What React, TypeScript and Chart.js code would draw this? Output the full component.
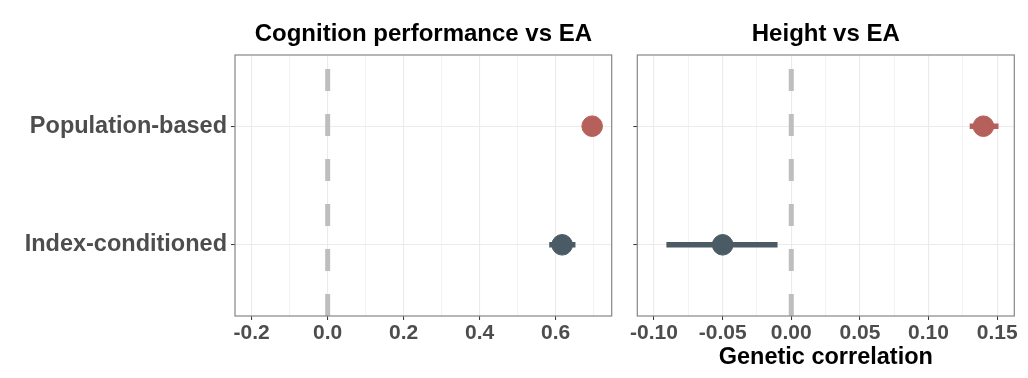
import React, { useEffect, useRef } from 'react';
import { Chart, registerables } from 'chart.js';

Chart.register(...registerables);

// ---------- data ----------
const categories = ['Index-conditioned', 'Population-based'];
const categoryPositions = [1, 2];
const groupColors = ['#4A5B66', '#B5605A'];

const cognitionTitle = 'Cognition performance vs EA';
const cognitionEstimate = [0.617, 0.696];
const cognitionLower = [0.583, 0.685];
const cognitionUpper = [0.652, 0.707];
const cognitionTicks = [-0.2, 0.0, 0.2, 0.4, 0.6];
const cognitionMinorTicks = [-0.1, 0.1, 0.3, 0.5, 0.7];

const heightTitle = 'Height vs EA';
const heightEstimate = [-0.05, 0.14];
const heightLower = [-0.091, 0.13];
const heightUpper = [-0.01, 0.151];
const heightTicks = [-0.1, -0.05, 0.0, 0.05, 0.1, 0.15];
const heightMinorTicks = [-0.075, -0.025, 0.025, 0.075, 0.125];

const xAxisTitle = 'Genetic correlation';
const referenceValue = 0;

// ---------- layout / style ----------
const FONT = '"Liberation Sans", Arial, Helvetica, sans-serif';
const H = 378;
const Y_MIN = 0.4;
const Y_MAX = 2.6;
const PAD_BOTTOM = 6;
const AREA_BOTTOM = 316;

type Panel = {
  title: string;
  estimate: number[];
  lower: number[];
  upper: number[];
  ticks: number[];
  minorTicks: number[];
  decimals: number;
  xMin: number;
  xMax: number;
  showYLabels: boolean;
  xTitle: string;
  left: number;
  width: number;
  yAxisWidth: number;
  padRight: number;
};

const panels: Panel[] = [
  {
    title: cognitionTitle,
    estimate: cognitionEstimate,
    lower: cognitionLower,
    upper: cognitionUpper,
    ticks: cognitionTicks,
    minorTicks: cognitionMinorTicks,
    decimals: 1,
    xMin: -0.2439,
    xMax: 0.7474,
    showYLabels: true,
    xTitle: '',
    left: 0,
    width: 620,
    yAxisWidth: 235,
    padRight: 8.3,
  },
  {
    title: heightTitle,
    estimate: heightEstimate,
    lower: heightLower,
    upper: heightUpper,
    ticks: heightTicks,
    minorTicks: heightMinorTicks,
    decimals: 2,
    xMin: -0.1122,
    xMax: 0.1625,
    showYLabels: false,
    xTitle: xAxisTitle,
    left: 620,
    width: 408,
    yAxisWidth: 17.3,
    padRight: 13.7,
  },
];

const panelBorder = {
  id: 'panelBorder',
  afterDatasetsDraw(chart: any) {
    const { ctx, chartArea } = chart;
    ctx.save();
    ctx.strokeStyle = '#858585';
    ctx.lineWidth = 1.2;
    ctx.strokeRect(chartArea.left, chartArea.top, chartArea.right - chartArea.left, chartArea.bottom - chartArea.top);
    ctx.restore();
  },
};

function buildConfig(p: Panel): any {
  const isMajor = (v: number) => p.ticks.some((m) => Math.abs(m - v) < 1e-9);
  const allTicks = [...p.ticks, ...p.minorTicks].sort((a, b) => a - b);

  const datasets: any[] = [];
  datasets.push({
    type: 'line',
    data: [
      { x: referenceValue, y: Y_MIN },
      { x: referenceValue, y: Y_MAX },
    ],
    borderColor: '#BEBEBE',
    borderWidth: 5,
    borderDash: [22, 23],
    borderCapStyle: 'butt',
    pointRadius: 0,
    fill: false,
    order: 3,
  });
  p.estimate.forEach((_, i) => {
    datasets.push({
      type: 'line',
      data: [
        { x: p.lower[i], y: categoryPositions[i] },
        { x: p.upper[i], y: categoryPositions[i] },
      ],
      borderColor: groupColors[i],
      borderWidth: 5.5,
      borderCapStyle: 'butt',
      pointRadius: 0,
      fill: false,
      order: 2,
    });
  });
  datasets.push({
    type: 'scatter',
    data: p.estimate.map((e, i) => ({ x: e, y: categoryPositions[i] })),
    backgroundColor: groupColors,
    borderColor: groupColors,
    borderWidth: 1,
    pointRadius: 10.3,
    pointHoverRadius: 10.3,
    order: 1,
  });

  return {
    type: 'scatter',
    data: { datasets },
    plugins: [panelBorder],
    options: {
      responsive: false,
      animation: false,
      events: [],
      layout: { autoPadding: false, padding: { left: 0, right: p.padRight, top: 0, bottom: PAD_BOTTOM } },
      plugins: {
        legend: { display: false },
        tooltip: { enabled: false },
        title: { display: false },
      },
      scales: {
        x: {
          type: 'linear',
          axis: 'x',
          position: 'bottom',
          min: p.xMin,
          max: p.xMax,
          afterBuildTicks: (s: any) => {
            s.ticks = allTicks.map((v) => ({ value: v }));
          },
          afterFit: (s: any) => {
            s.height = H - PAD_BOTTOM - AREA_BOTTOM;
          },
          ticks: {
            autoSkip: false,
            maxRotation: 0,
            padding: 1,
            color: '#4D4D4D',
            font: { family: FONT, size: 21, weight: 'bold' },
            callback: (v: number) => (isMajor(v) ? Number(v).toFixed(p.decimals) : ''),
          },
          grid: {
            color: '#EBEBEB',
            lineWidth: (c: any) => (c.tick && isMajor(c.tick.value) ? 1.1 : 0.6),
            tickLength: 4,
            tickColor: (c: any) => (c.tick && isMajor(c.tick.value) ? '#333333' : 'rgba(0,0,0,0)'),
            tickWidth: 1,
          },
          border: { display: false },
          title: {
            display: !!p.xTitle,
            text: p.xTitle,
            color: '#000000',
            font: { family: FONT, size: 23.5, weight: 'bold' },
            padding: { top: 0, bottom: 0 },
          },
        },
        x2: {
          type: 'linear',
          axis: 'x',
          position: 'top',
          min: p.xMin,
          max: p.xMax,
          afterFit: (s: any) => {
            s.height = 55;
          },
          ticks: { display: false },
          grid: { display: false },
          border: { display: false },
          title: {
            display: true,
            text: p.title,
            color: '#000000',
            font: { family: FONT, size: 24, weight: 'bold' },
            padding: { top: 19.6, bottom: 0 },
          },
        },
        y: {
          type: 'linear',
          position: 'left',
          min: Y_MIN,
          max: Y_MAX,
          afterBuildTicks: (s: any) => {
            s.ticks = categoryPositions.map((v) => ({ value: v }));
          },
          afterFit: (s: any) => {
            s.width = p.yAxisWidth;
          },
          ticks: {
            autoSkip: false,
            padding: 4,
            color: '#4D4D4D',
            font: { family: FONT, size: 23.5, weight: 'bold' },
            callback: (v: number) => {
              if (!p.showYLabels) return '';
              const idx = categoryPositions.indexOf(v);
              return idx >= 0 ? categories[idx] : '';
            },
          },
          grid: {
            color: '#EBEBEB',
            lineWidth: 1.1,
            tickLength: 4,
            tickColor: '#333333',
            tickWidth: 1,
          },
          border: { display: false },
        },
      },
    },
  };
}

function PanelChart({ panel }: { panel: Panel }) {
  const ref = useRef<HTMLCanvasElement>(null);
  useEffect(() => {
    const chart = new Chart(ref.current as HTMLCanvasElement, buildConfig(panel));
    return () => chart.destroy();
  }, [panel]);
  return (
    <canvas
      ref={ref}
      width={panel.width}
      height={H}
      style={{ position: 'absolute', left: panel.left, top: 0, width: panel.width, height: H }}
    />
  );
}

export default function App() {
  return (
    <div style={{ position: 'absolute', left: 0, top: 0, width: 1028, height: H, background: '#FFFFFF' }}>
      {panels.map((p, i) => (
        <PanelChart key={i} panel={p} />
      ))}
    </div>
  );
}
